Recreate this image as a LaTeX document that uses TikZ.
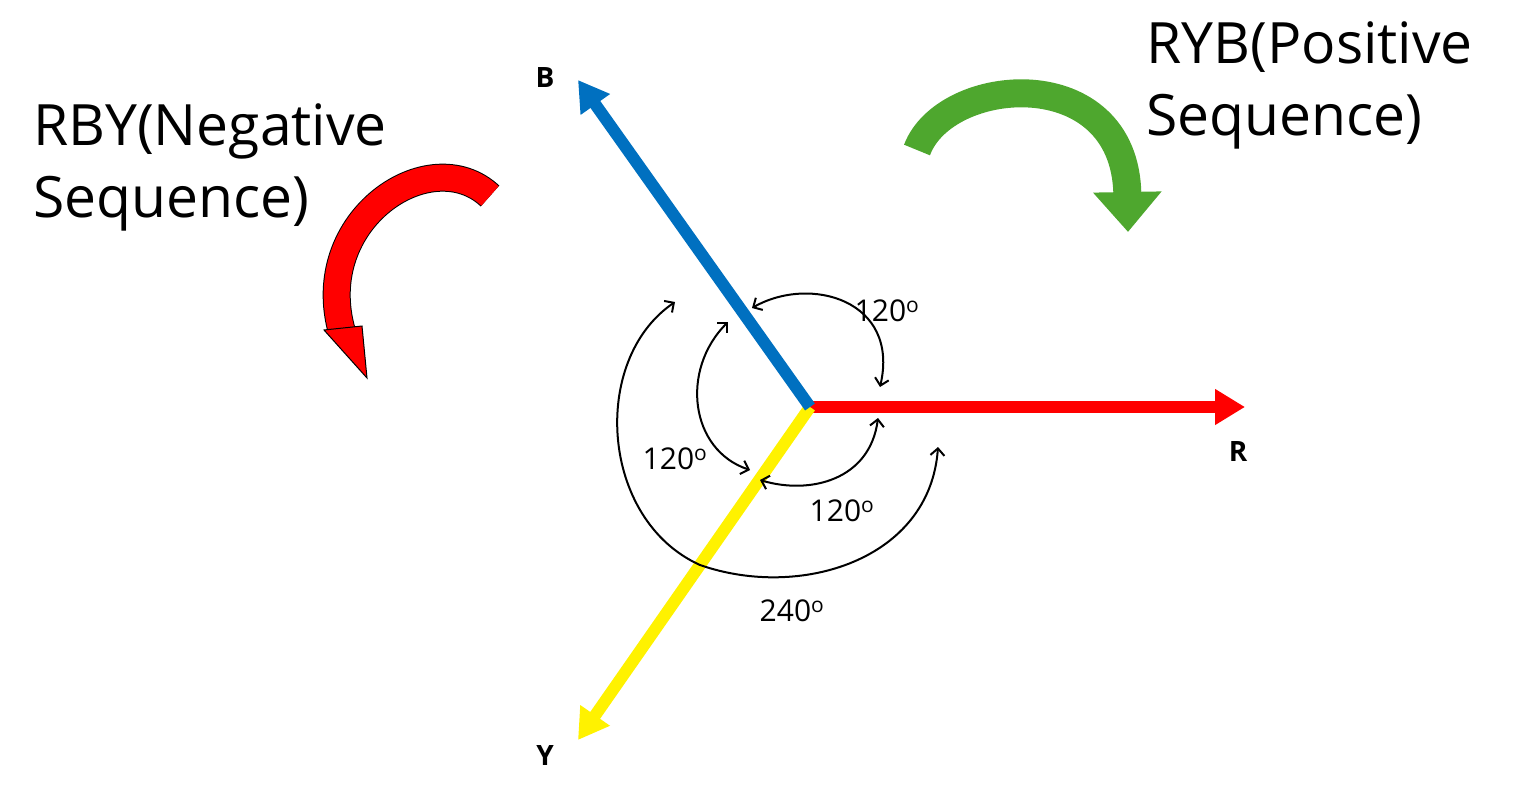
\documentclass[tikz,border=0pt]{standalone}
\usepackage{fontspec}
\setmainfont{Open Sans}
\usetikzlibrary{arrows.meta}
\begin{document}
\begin{tikzpicture}[x=1pt,y=-1pt,
  phase/.style={line width=12pt,-{Triangle[width=34pt,length=30pt]}},
  ang/.style={line width=2pt,{Straight Barb[length=7pt,width=14pt]}-{Straight Barb[length=7pt,width=14pt]},black},
  lbl/.style={font=\fontsize{30}{34}\selectfont},
  ph/.style={font=\bfseries\fontsize{28}{32}\selectfont},
  big/.style={font=\fontsize{57}{72}\selectfont,align=left}]
\useasboundingbox (0,0) rectangle (1536,797);
\coordinate (O) at (810,407);
\coordinate (Rt) at (1245,407);
\coordinate (Bt) at (578,80);
\coordinate (Yt) at (578,740);
\draw[phase,red] (O) -- (Rt);
\draw[phase,yellow] (O) -- (Yt);
\draw[phase,color={rgb,255:red,0;green,112;blue,192}] (O) -- (Bt);
\node[ph] (B) at (545,78) {B};
\node[ph] (R) at (1238,452) {R};
\node[ph] (Y) at (545,755) {Y};
% angle arcs
\coordinate (a1s) at (752,308); \coordinate (a1e) at (880,387);
\draw[ang] (a1s) .. controls (810,275) and (900,300) .. (a1e);
\coordinate (a2s) at (728,322); \coordinate (a2e) at (750,470);
\draw[ang] (a2s) .. controls (680,370) and (690,450) .. (a2e);
\coordinate (a3s) at (760,480); \coordinate (a3e) at (878,418);
\draw[ang] (a3s) .. controls (810,495) and (870,480) .. (a3e);
\coordinate (a4s) at (675,302); \coordinate (a4e) at (938,447);
\draw[ang] (a4s) .. controls (590,360) and (600,520) .. (700,565)
  .. controls (800,600) and (930,560) .. (a4e);
\node[lbl] (l1) at (887,311) {120\textsuperscript{o}};
\node[lbl] (l2) at (675,459) {120\textsuperscript{o}};
\node[lbl] (l3) at (842,511) {120\textsuperscript{o}};
\node[lbl] (l4) at (792,611) {240\textsuperscript{o}};
% green arrow
\coordinate (gs) at (917,150);
\coordinate (ge) at (1128,232);
\draw[line width=28pt,color={rgb,255:red,78;green,167;blue,46},-{Triangle[width=66pt,length=40pt]}]
  (gs) .. controls (945,75) and (1125,60) .. (ge);
% red arrow
\coordinate (rs) at (490,196);
\coordinate (re) at (342,332);
\draw[line width=28pt,black] (rs) .. controls (430,140) and (310,220) .. (re);
\draw[line width=26pt,red] (rs) .. controls (430,140) and (310,220) .. (re);
\draw[fill=red,line width=1pt] (324,330) -- (362,326) -- (367,378) -- cycle;
\node[big,anchor=north west] (neg) at (30,100) {RBY(Negative\\Sequence)};
\node[big,anchor=north west] (pos) at (1143,18) {RYB(Positive\\Sequence)};
\end{tikzpicture}
\end{document}
